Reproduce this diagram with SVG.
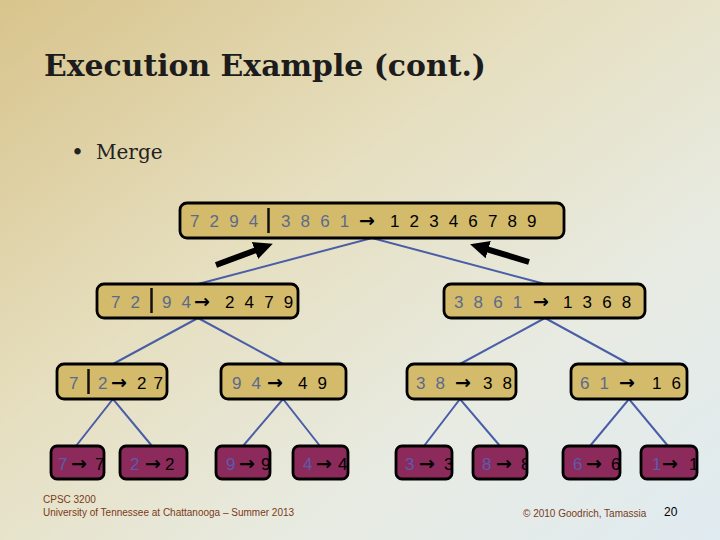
<svg xmlns="http://www.w3.org/2000/svg" width="720" height="540" viewBox="0 0 720 540">
<defs>
<linearGradient id="bg" x1="0" y1="0" x2="1" y2="1">
<stop offset="0" stop-color="#d8c48c"/>
<stop offset="0.4" stop-color="#e6dfc0"/>
<stop offset="0.7" stop-color="#e8ebe2"/>
<stop offset="1" stop-color="#e0ebf1"/>
</linearGradient>
<marker id="ah" markerUnits="userSpaceOnUse" markerWidth="20" markerHeight="18" refX="6" refY="9" orient="auto">
<path d="M0,0 L19,9 L0,18 z" fill="#000"/>
</marker>
<clipPath id="c1"><rect x="51" y="446" width="53" height="33" rx="6"/></clipPath>
<clipPath id="c2"><rect x="120" y="446" width="67" height="33" rx="6"/></clipPath>
<clipPath id="c3"><rect x="216" y="446" width="54" height="33" rx="6"/></clipPath>
<clipPath id="c4"><rect x="293" y="446" width="55" height="33" rx="6"/></clipPath>
<clipPath id="c5"><rect x="396" y="446" width="56" height="33" rx="6"/></clipPath>
<clipPath id="c6"><rect x="473" y="446" width="54" height="33" rx="6"/></clipPath>
<clipPath id="c7"><rect x="563" y="446" width="57" height="33" rx="6"/></clipPath>
<clipPath id="c8"><rect x="641" y="446" width="56" height="33" rx="6"/></clipPath>
</defs>
<style>
.box{fill:#d3bb6b;stroke:#000;stroke-width:2.8}
.leaf{fill:#8c2a5c;stroke:#000;stroke-width:2.8}
.d{font-family:"Liberation Sans",Arial,sans-serif;font-size:17px;letter-spacing:2.7px}
.l{font-family:"Liberation Sans",Arial,sans-serif;font-size:17px}
.in{fill:#5b6a8c}
.lin{fill:#5a5cab}
.out{fill:#000}
.arr{font-family:"DejaVu Sans",sans-serif;font-size:19px;font-weight:bold;fill:#000}
.div{stroke:#111;stroke-width:2.5}
.con{stroke:#4a5ea8;stroke-width:2;fill:none}
.foot{font-family:"Liberation Sans",Arial,sans-serif;font-size:10px;fill:#7a3a18}
</style>
<rect x="0" y="0" width="720" height="540" fill="url(#bg)"/>
<text x="44" y="76" font-family="'DejaVu Serif','Liberation Serif',serif" font-weight="bold" font-size="29" fill="#1c1c1c" textLength="442" lengthAdjust="spacingAndGlyphs">Execution Example (cont.)</text>
<text x="71" y="160" font-family="'DejaVu Serif','Liberation Serif',serif" font-size="22" fill="#222">•</text>
<text x="96" y="159" font-family="'DejaVu Serif','Liberation Serif',serif" font-size="20" fill="#222">Merge</text>

<g id="connectors">
<polyline class="con" points="198,284 372,238 545,284"/>
<polyline class="con" points="113,364 198,318 283,364"/>
<polyline class="con" points="460,364 545,318 629,364"/>
<polyline class="con" points="76,446 113,399 152,446"/>
<polyline class="con" points="243,446 283,399 320,446"/>
<polyline class="con" points="424,446 460,399 500,446"/>
<polyline class="con" points="590,446 629,399 668,446"/>
<line x1="216" y1="265" x2="260.6" y2="248.4" stroke="#000" stroke-width="6" marker-end="url(#ah)"/>
<line x1="529" y1="262" x2="482.5" y2="247.9" stroke="#000" stroke-width="6" marker-end="url(#ah)"/>
</g>

<g id="root">
<rect class="box" x="180" y="203" width="384" height="35" rx="7"/>
<text class="d in" x="190" y="227">7 2 9 4</text>
<line class="div" x1="268.5" y1="208" x2="268.5" y2="233"/>
<text class="d in" x="281" y="227">3 8 6 1</text>
<text class="arr" x="359" y="227">→</text>
<text class="d out" x="390" y="227">1 2 3 4 6 7 8 9</text>
</g>

<g id="n72_94">
<rect class="box" x="97" y="284" width="201" height="34" rx="7"/>
<text class="d in" x="111" y="308">7 2</text>
<line class="div" x1="151.5" y1="288" x2="151.5" y2="313"/>
<text class="d in" x="162" y="308">9 4</text>
<text class="arr" x="194" y="308">→</text>
<text class="d out" x="225" y="308">2 4 7 9</text>
</g>

<g id="n3861">
<rect class="box" x="444" y="284" width="201" height="34" rx="7"/>
<text class="d in" x="454" y="308">3 8 6 1</text>
<text class="arr" x="533" y="308">→</text>
<text class="d out" x="563" y="308">1 3 6 8</text>
</g>

<g id="n7_2">
<rect class="box" x="57" y="364" width="110" height="35" rx="7"/>
<text class="l in" x="69" y="389">7</text>
<line class="div" x1="88.5" y1="369" x2="88.5" y2="394"/>
<text class="l in" x="98" y="389">2</text>
<text class="arr" x="111" y="389">→</text>
<text class="d out" x="137" y="389" style="letter-spacing:1.2px">2 7</text>
</g>

<g id="n94">
<rect class="box" x="221" y="364" width="125" height="35" rx="7"/>
<text class="d in" x="232" y="389">9 4</text>
<text class="arr" x="267" y="389">→</text>
<text class="d out" x="298" y="389">4 9</text>
</g>

<g id="n38">
<rect class="box" x="407" y="364" width="109" height="35" rx="7"/>
<text class="d in" x="416" y="389">3 8</text>
<text class="arr" x="455" y="389">→</text>
<text class="d out" x="483" y="389">3 8</text>
</g>

<g id="n61">
<rect class="box" x="571" y="364" width="116" height="35" rx="7"/>
<text class="d in" x="580" y="389">6 1</text>
<text class="arr" x="619" y="389">→</text>
<text class="d out" x="652" y="389">1 6</text>
</g>

<g id="leaf7">
<rect class="leaf" x="51" y="446" width="53" height="33" rx="6"/>
<g clip-path="url(#c1)">
<text class="l lin" x="58" y="470">7</text>
<text class="arr" x="71" y="470">→</text>
<text class="l out" x="95" y="470">7</text>
</g>
</g>
<g id="leaf2">
<rect class="leaf" x="120" y="446" width="67" height="33" rx="6"/>
<g clip-path="url(#c2)">
<text class="l lin" x="130" y="470">2</text>
<text class="arr" x="145" y="470">→</text>
<text class="l out" x="165" y="470">2</text>
</g>
</g>
<g id="leaf9">
<rect class="leaf" x="216" y="446" width="54" height="33" rx="6"/>
<g clip-path="url(#c3)">
<text class="l lin" x="226" y="470">9</text>
<text class="arr" x="239" y="470">→</text>
<text class="l out" x="261" y="470">9</text>
</g>
</g>
<g id="leaf4">
<rect class="leaf" x="293" y="446" width="55" height="33" rx="6"/>
<g clip-path="url(#c4)">
<text class="l lin" x="303" y="470">4</text>
<text class="arr" x="316" y="470">→</text>
<text class="l out" x="338" y="470">4</text>
</g>
</g>
<g id="leaf3">
<rect class="leaf" x="396" y="446" width="56" height="33" rx="6"/>
<g clip-path="url(#c5)">
<text class="l lin" x="405" y="470">3</text>
<text class="arr" x="419" y="470">→</text>
<text class="l out" x="444" y="470">3</text>
</g>
</g>
<g id="leaf8">
<rect class="leaf" x="473" y="446" width="54" height="33" rx="6"/>
<g clip-path="url(#c6)">
<text class="l lin" x="482" y="470">8</text>
<text class="arr" x="496" y="470">→</text>
<text class="l out" x="521" y="470">8</text>
</g>
</g>
<g id="leaf6">
<rect class="leaf" x="563" y="446" width="57" height="33" rx="6"/>
<g clip-path="url(#c7)">
<text class="l lin" x="573" y="470">6</text>
<text class="arr" x="586" y="470">→</text>
<text class="l out" x="611" y="470">6</text>
</g>
</g>
<g id="leaf1">
<rect class="leaf" x="641" y="446" width="56" height="33" rx="6"/>
<g clip-path="url(#c8)">
<text class="l lin" x="652" y="470">1</text>
<text class="arr" x="662" y="470">→</text>
<text class="l out" x="689" y="470">1</text>
</g>
</g>

<text class="foot" x="43" y="503">CPSC 3200</text>
<text class="foot" x="43" y="516">University of Tennessee at Chattanooga – Summer 2013</text>
<text class="foot" x="523" y="517">© 2010 Goodrich, Tamassia</text>
<text x="664" y="516" font-family="'Liberation Sans',Arial,sans-serif" font-size="12" fill="#000">20</text>
</svg>
